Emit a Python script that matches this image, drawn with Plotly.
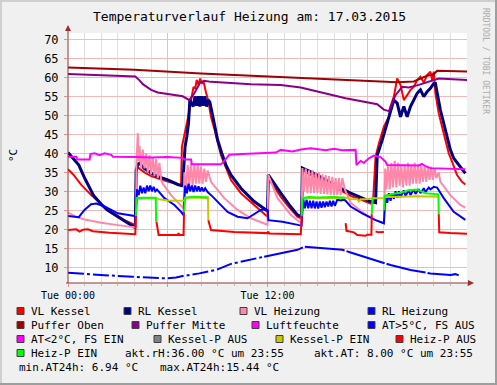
import plotly.graph_objects as go

# ---------------- data (hours of the day, values in °C / %) ----------------
x_tick_vals = [0, 6, 12, 18]
x_tick_text = ["Tue 00:00", "", "Tue 12:00", ""]
y_tick_vals = [10, 15, 20, 25, 30, 35, 40, 45, 50, 55, 60, 65, 70]

vl_kessel = [(0, 35.8), (0.3, 34.5), (0.8, 31.7), (1.4, 29.0), (2.4, 25.1), (3.4, 22.4), (4.05, 21.1),
             (4.1, 35.0), (4.2, 36.3), (4.6, 35.0), (5.0, 34.0), (5.5, 33.2), (6.0, 32.6), (6.5, 32.0),
             (6.8, 31.4), (6.85, 41.7), (7.04, 45.3), (7.23, 49.6), (7.44, 54.9), (7.55, 57.5), (7.65, 57.0),
             (7.74, 59.3), (7.85, 58.0), (7.95, 59.7), (8.05, 58.3), (8.15, 59.0), (8.3, 56.0), (8.43, 54.0),
             (8.6, 49.6), (8.8, 46.5), (9.2, 39.5), (9.5, 36.0), (9.8, 33.0), (10.4, 29.5), (11.2, 26.4),
             (11.8, 24.2), (12.0, 23.3), (12.05, 33.5), (12.4, 31.0), (12.8, 28.5), (13.3, 25.8), (13.8, 23.3),
             (14.05, 22.8), (14.1, 35.6), (14.4, 34.8), (14.8, 33.8), (15.4, 32.5), (16.0, 31.2), (17.0, 28.8),
             (17.6, 27.8), (18.2, 26.8), (18.35, 27.5), (18.5, 39.1), (18.7, 42.6), (19.0, 47.0), (19.3, 49.6),
             (19.4, 52.3), (19.6, 54.9), (19.8, 59.7), (20.0, 58.0), (20.2, 54.0), (20.4, 55.3), (20.6, 56.7),
             (20.8, 57.5), (21.0, 59.3), (21.2, 60.2), (21.4, 58.6), (21.6, 60.6), (21.8, 61.5), (21.9, 59.3),
             (22.0, 61.5), (22.1, 55.8), (22.3, 50.5), (22.5, 47.0), (22.7, 43.5), (22.9, 40.0), (23.1, 37.8),
             (23.4, 34.3), (23.7, 32.5), (23.9, 31.8)]

rl_kessel = [(0, 40.2), (0.3, 38.8), (0.65, 36.9), (1.0, 33.5), (1.55, 28.8), (2.0, 26.6), (2.35, 25.1),
             (3.14, 22.9), (3.94, 20.9), (4.05, 20.4), (4.1, 35.5), (4.2, 37.2), (4.3, 37.4), (4.6, 36.0),
             (5.0, 34.8), (5.34, 34.0), (6.0, 33.0), (6.6, 31.8), (6.9, 31.5), (6.95, 36.0), (7.04, 41.7),
             (7.15, 44.5), (7.25, 48.0), (7.33, 54.0), (7.53, 52.3), (7.64, 55.0), (7.74, 52.5), (7.84, 55.0),
             (7.93, 52.3), (8.03, 55.0), (8.13, 52.5), (8.23, 55.0), (8.33, 52.3), (8.43, 54.0), (8.53, 53.5),
             (8.65, 51.0), (8.8, 47.5), (9.0, 43.5), (9.25, 40.0), (9.5, 36.9), (9.8, 34.3), (10.4, 30.8),
             (11.2, 27.3), (11.9, 25.1), (12.0, 24.8), (12.05, 34.3), (12.4, 32.0), (12.8, 29.5), (13.3, 26.5),
             (13.8, 23.8), (14.05, 23.3), (14.1, 36.1), (14.8, 34.7), (15.4, 33.2), (16.0, 31.7), (17.0, 29.5),
             (18.2, 27.3), (18.5, 27.0), (18.6, 39.5), (18.9, 43.5), (19.2, 47.9), (19.4, 50.5), (19.6, 54.0),
             (19.8, 53.2), (20.0, 49.6), (20.2, 52.3), (20.4, 49.6), (20.6, 52.3), (20.8, 54.0), (21.0, 55.8),
             (21.2, 56.7), (21.4, 54.9), (21.6, 56.2), (21.8, 57.1), (22.0, 58.4), (22.1, 58.4), (22.4, 51.4),
             (22.7, 46.1), (23.0, 40.9), (23.2, 38.7), (23.7, 35.6), (23.9, 34.7)]

vl_heizung = [(0, 24.4), (0.5, 23.3), (1.0, 22.6), (2.0, 21.7), (3.0, 21.1), (4.0, 20.6), (4.08, 20.5),
              (4.12, 38.0), (4.2, 45.3), (4.25, 38.0), (4.3, 42.0), (4.4, 36.0), (4.5, 41.0), (4.6, 36.0),
              (4.7, 40.0), (4.8, 35.0), (4.9, 39.5), (5.0, 34.5), (5.1, 39.0), (5.2, 34.0), (5.3, 38.5),
              (5.4, 33.5), (5.5, 37.5), (5.6, 33.0), (5.7, 32.0), (6.2, 29.0), (6.8, 26.0), (6.95, 25.5),
              (7.0, 35.0), (7.1, 31.0), (7.2, 37.0), (7.3, 31.5), (7.4, 37.4), (7.5, 31.5), (7.6, 37.0),
              (7.7, 32.0), (7.8, 37.0), (7.9, 32.0), (8.0, 36.5), (8.1, 32.0), (8.2, 36.0), (8.3, 32.5),
              (8.4, 35.5), (8.6, 32.5), (9.4, 28.2), (10.2, 25.1), (11.0, 22.9), (11.9, 21.4), (12.0, 21.2),
              (12.05, 34.3), (12.6, 28.2), (13.4, 23.8), (13.9, 22.0), (14.05, 21.8), (14.1, 36.1),
              (14.2, 30.0), (14.3, 36.0), (14.4, 29.5), (14.5, 35.5), (14.6, 29.5), (14.7, 35.5), (14.8, 29.5),
              (14.9, 35.0), (15.0, 29.5), (15.1, 35.0), (15.2, 29.3), (15.3, 34.5), (15.4, 29.3), (15.5, 34.3),
              (15.6, 29.2), (15.7, 34.0), (15.8, 29.0), (15.9, 33.8), (16.0, 29.0), (16.1, 33.5), (16.2, 29.0),
              (16.3, 33.5), (16.4, 29.0), (16.5, 33.5), (16.65, 30.5), (17.0, 27.0), (17.8, 24.2), (18.4, 22.6),
              (18.9, 21.8), (19.0, 21.6), (19.08, 36.0), (19.15, 30.5), (19.25, 37.0), (19.35, 30.5),
              (19.45, 37.5), (19.55, 31.0), (19.65, 38.0), (19.75, 31.0), (19.85, 37.5), (19.95, 31.5),
              (20.05, 37.0), (20.15, 31.0), (20.25, 37.0), (20.35, 31.5), (20.45, 37.5), (20.55, 31.5),
              (20.65, 37.0), (20.75, 32.0), (20.85, 37.5), (20.95, 32.0), (21.05, 37.0), (21.15, 32.0),
              (21.25, 37.0), (21.35, 32.5), (21.45, 36.5), (21.55, 32.5), (21.65, 36.5), (21.75, 33.0),
              (21.85, 36.5), (21.95, 33.0), (22.05, 36.0), (22.15, 33.5), (22.3, 35.0), (22.4, 32.5),
              (23.0, 29.0), (23.6, 26.4), (23.9, 25.7)]

rl_heizung = [(0, 23.5), (0.65, 23.2), (0.99, 25.1), (1.39, 26.6), (1.7, 26.8), (2.2, 26.0), (3.0, 24.2),
              (4.0, 23.5), (4.07, 23.0), (4.1, 27.0), (4.15, 30.5), (4.25, 29.0), (4.35, 31.5), (4.45, 29.5),
              (4.55, 31.0), (4.65, 29.5), (4.75, 31.5), (4.85, 30.0), (4.95, 31.5), (5.05, 30.0), (5.15, 31.2),
              (5.25, 30.0), (5.35, 30.5), (5.8, 28.2), (6.4, 26.4), (6.8, 24.6), (6.95, 23.7), (7.0, 28.0),
              (7.05, 31.5), (7.15, 29.5), (7.25, 32.0), (7.35, 30.0), (7.45, 31.5), (7.55, 29.8), (7.65, 31.5),
              (7.75, 30.0), (7.85, 31.3), (7.95, 30.0), (8.05, 31.0), (8.15, 30.0), (8.25, 30.8), (8.4, 29.8),
              (8.7, 28.6), (9.6, 24.6), (10.2, 23.3), (10.8, 22.9), (11.2, 23.9), (11.6, 25.1), (11.9, 25.3),
              (12.02, 25.0), (12.05, 22.4), (12.9, 22.0), (13.9, 21.1), (14.05, 21.0), (14.1, 25.0),
              (14.15, 28.0), (14.25, 25.5), (14.35, 27.8), (14.45, 25.5), (14.55, 27.5), (14.65, 25.5),
              (14.75, 27.5), (14.85, 25.5), (14.95, 27.3), (15.05, 25.5), (15.15, 27.3), (15.25, 25.7),
              (15.35, 27.3), (15.45, 25.8), (15.55, 27.3), (15.65, 26.0), (15.75, 27.5), (15.85, 26.0),
              (15.95, 27.5), (16.05, 26.2), (16.2, 27.8), (16.4, 27.6), (16.6, 27.8), (16.7, 27.5),
              (17.0, 26.0), (17.7, 24.2), (18.5, 22.4), (19.0, 21.6), (19.05, 26.0), (19.1, 29.0), (19.2, 27.0),
              (19.3, 29.5), (19.4, 27.5), (19.5, 29.5), (19.6, 28.0), (19.7, 30.0), (19.8, 28.3), (19.9, 30.0),
              (20.0, 28.5), (20.2, 30.2), (20.3, 28.8), (20.5, 30.3), (20.6, 29.0), (20.8, 30.5), (20.9, 29.3),
              (21.1, 30.6), (21.2, 29.5), (21.4, 30.8), (21.5, 29.8), (21.7, 31.0), (21.8, 30.5), (22.0, 31.2),
              (22.2, 31.0), (22.4, 29.5), (22.6, 28.2), (23.2, 24.6), (23.7, 23.0), (23.9, 22.5)]

puffer_oben = [(0, 62.6), (4, 62.0), (8, 61.0), (12, 60.2), (16, 59.4), (19, 58.85), (19.8, 58.7),
               (20.8, 58.9), (21.2, 59.6), (21.6, 60.4), (22.0, 60.8), (22.2, 61.7), (24, 61.5)]

puffer_mitte = [(0, 60.9), (2, 60.6), (4.05, 60.2), (4.3, 59.2), (4.5, 58.2), (5.0, 56.7), (5.4, 56.0),
                (6.9, 55.0), (7.3, 54.0), (7.6, 55.8), (7.95, 58.6), (8.2, 59.1), (8.6, 58.8), (11, 58.2),
                (12.8, 58.0), (14, 57.3), (15, 56.3), (16.7, 54.5), (18.6, 52.9), (19.0, 51.5), (19.3, 51.1),
                (19.7, 55.3), (20.1, 57.5), (20.5, 57.3), (21.1, 58.0), (22.0, 59.3), (22.3, 59.7), (24, 59.3)]

luftfeuchte = [(0, 39.1), (0.5, 39.1), (0.55, 38.4), (1.3, 38.4), (1.35, 39.8), (1.6, 40.0), (1.9, 39.5),
               (2.2, 40.0), (2.6, 39.6), (2.7, 39.1), (4.1, 39.0), (5.0, 38.9), (6.0, 39.0), (6.9, 38.8),
               (7.0, 38.4), (7.4, 38.4), (7.45, 37.1), (9.2, 37.1), (9.4, 38.0), (9.7, 39.6), (10.5, 39.8),
               (11.5, 40.0), (12.5, 40.2), (12.8, 40.9), (13.5, 40.5), (14.0, 41.0), (14.6, 41.3), (15.5, 40.8),
               (16.0, 41.2), (16.5, 40.8), (17.3, 40.9), (17.35, 36.9), (17.6, 38.0), (17.8, 37.5),
               (18.1, 38.7), (18.4, 39.4), (18.8, 39.0), (19.1, 37.8), (19.2, 36.9), (21.1, 36.8),
               (21.3, 37.2), (21.5, 36.6), (21.8, 36.1), (23.9, 35.8)]

# outside temperature: night/morning part (logged with gaps) and afternoon part
aussentemp_frueh = [(0, 8.6), (0.6, 8.4), (1.95, 8.0), (3.9, 7.5), (5.0, 7.3), (5.9, 7.1), (6.5, 7.3),
                    (6.9, 7.7), (7.9, 8.4), (8.9, 9.3), (9.8, 10.9), (10.8, 11.9), (11.8, 12.8)]
aussentemp_spaet = [(11.8, 12.8), (12.8, 13.7), (13.8, 14.6), (14.2, 15.4), (14.9, 15.1), (15.8, 14.8),
                    (16.5, 14.6), (17.0, 13.9), (17.5, 13.2), (18.2, 12.1), (19.4, 10.6), (20.6, 9.3),
                    (21.8, 8.4), (23.0, 8.0), (23.3, 8.2), (23.5, 7.9)]

kessel_p_ein = [(4.1, 28.2), (5.3, 28.2), (5.5, 27.9), (6.0, 27.6), (6.5, 27.5), (7.0, 27.6), (7.05, 28.3),
                (8.42, 28.4), (8.44, 22.4), None,
                (14.1, 28.2), (16.7, 28.3), (17.0, 28.0), (17.4, 27.9), (17.5, 27.3), (17.6, 27.9),
                (18.0, 27.9), (18.3, 28.2), (19.0, 28.2), (19.1, 28.5), (20.0, 28.6), (21.0, 28.7), (22.28, 28.6)]

heiz_p_aus = [(0, 19.8), (0.5, 20.0), (0.7, 19.4), (0.9, 19.9), (1.2, 20.0), (1.5, 19.5), (2.5, 19.1),
              (4.05, 18.7), (4.08, 23.5), None,
              (5.32, 22.0), (5.45, 18.5), (6.6, 18.5), (6.65, 19.0), (6.7, 18.5), (6.95, 18.5), (6.98, 24.5), None,
              (8.44, 22.4), (8.6, 19.8), (10.0, 19.3), (12.0, 19.0), (12.05, 19.4), (12.1, 18.9), (14.0, 18.7),
              (14.06, 23.5), None,
              (16.7, 21.6), (16.75, 19.6), (17.2, 19.2), (17.4, 18.5), (17.9, 18.3), (18.0, 18.6), (18.25, 18.6),
              (18.27, 24.0), None,
              (18.5, 19.4), (18.7, 19.2), (19.0, 19.3), None,
              (22.3, 24.0), (22.33, 19.2), (23.0, 19.0), (24.0, 18.8)]

heiz_p_ein = [(4.08, 23.5), (4.12, 28.2), (4.5, 28.3), (5.0, 28.3), (5.28, 28.3), (5.3, 22.0), None,
              (6.98, 24.5), (7.05, 28.3), (7.5, 28.6), (8.0, 28.5), (8.4, 28.4), None,
              (14.06, 23.5), (14.1, 28.2), (14.5, 28.5), (15.0, 28.4), (16.0, 28.5), (16.65, 28.3), None,
              (18.27, 24.0), (18.32, 28.2), None,
              (19.02, 25.0), (19.05, 28.8), (19.5, 29.3), (20.0, 29.6), (20.5, 30.3), (21.0, 30.5),
              (21.5, 29.5), (22.0, 29.3), (22.28, 29.2), (22.3, 24.0)]

legend_rows = [
    [("VL Kessel", "#FF0000", 17), ("RL Kessel", "#000080", 124), ("VL Heizung", "#FF88AA", 240),
     ("RL Heizung", "#0000FF", 368)],
    [("Puffer Oben", "#A00000", 17), ("Puffer Mitte", "#880088", 132), ("Luftfeuchte", "#FF00FF", 252),
     ("AT>5°C, FS AUS", "#0000FF", 368)],
    [("AT<2°C, FS EIN", "#FF00FF", 17), ("Kessel-P AUS", "#808080", 154), ("Kessel-P EIN", "#C8C800", 276),
     ("Heiz-P AUS", "#FF0000", 396)],
    [("Heiz-P EIN", "#00FF00", 17)],
]
info_texts = [("akt.rH:36.00 °C um 23:55", 123, 353), ("akt.AT: 8.00 °C um 23:55", 312, 353),
              ("min.AT24h: 6.94 °C", 17, 367), ("max.AT24h:15.44 °C", 158, 367)]
title_text = "Temperaturverlauf Heizung am: 17.03.2015"

# ---------------- geometry helpers ----------------
W, H = 497, 385
PL, PR, PT, PB = 68, 467, 33, 283
FONT = "DejaVu Sans Mono"


def px(x):
    return (x - PL) / (PR - PL)


def py(y):
    return (PB - y) / (PB - PT)


def split(pairs):
    xs, ys = [], []
    for p in pairs:
        if p is None:
            xs.append(None)
            ys.append(None)
        else:
            xs.append(p[0])
            ys.append(p[1])
    return xs, ys


fig = go.Figure()


def add_line(pairs, color, width=2, dash=None):
    xs, ys = split(pairs)
    fig.add_trace(go.Scatter(x=xs, y=ys, mode="lines", connectgaps=False,
                             line=dict(color=color, width=width, dash=dash),
                             hoverinfo="skip", showlegend=False))


add_line(vl_kessel, "#FF0000", 2)
add_line(rl_kessel, "#000080", 3)
add_line(vl_heizung, "#FF88AA", 2)
add_line(rl_heizung, "#0000FF", 2)
add_line(puffer_oben, "#A00000", 2)
add_line(puffer_mitte, "#880088", 2)
add_line(luftfeuchte, "#FF00FF", 2)
add_line(aussentemp_frueh, "#0000FF", 2, dash="16px,3px,3px,3px")
add_line(aussentemp_spaet, "#0000FF", 2, dash="40px,2px")
add_line(kessel_p_ein, "#C8C800", 2)
add_line(heiz_p_aus, "#FF0000", 2)
add_line(heiz_p_ein, "#00FF00", 2)

MGRID = "#F4BABA"
fig.update_layout(
    width=W, height=H,
    margin=dict(l=PL, r=W - PR, t=PT, b=H - PB, pad=0),
    paper_bgcolor="#F0F0F0", plot_bgcolor="#FFFFFF",
    showlegend=False,
    font=dict(family=FONT, color="#000000"),
    xaxis=dict(range=[0, 24], tickmode="array", tickvals=x_tick_vals, ticktext=x_tick_text,
               showgrid=True, gridcolor=MGRID, gridwidth=1, zeroline=False, showline=False,
               ticks="outside", ticklen=3, tickcolor="#E09090", tickfont=dict(size=10, family=FONT),
               minor=dict(dtick=1, tick0=0, showgrid=True, gridcolor="#E0E0E0", ticks="outside",
                          ticklen=2, tickcolor="#BBBBBB")),
    yaxis=dict(range=[5.87, 71.66], tickmode="array", tickvals=y_tick_vals,
               ticktext=[str(v) for v in y_tick_vals],
               showgrid=True, gridcolor=MGRID, gridwidth=1, zeroline=False, showline=False,
               ticks="outside", ticklen=3, tickcolor="#E09090", ticklabelstandoff=3,
               tickfont=dict(size=12, family=FONT)),
)

shapes = []
AX = "#9A3030"
# axes with arrows
shapes.append(dict(type="line", xref="paper", yref="paper", x0=px(68), x1=px(68), y0=py(283), y1=py(28),
                   line=dict(color=AX, width=1), layer="above"))
shapes.append(dict(type="line", xref="paper", yref="paper", x0=px(66), x1=px(470), y0=py(283), y1=py(283),
                   line=dict(color=AX, width=1), layer="above"))
shapes.append(dict(type="path", xref="paper", yref="paper",
                   path=f"M {px(65)} {py(31)} L {px(71)} {py(31)} L {px(68)} {py(25)} Z",
                   fillcolor="#A52A2A", line=dict(width=0), layer="above"))
shapes.append(dict(type="path", xref="paper", yref="paper",
                   path=f"M {px(468)} {py(280)} L {px(468)} {py(286)} L {px(474)} {py(283)} Z",
                   fillcolor="#A52A2A", line=dict(width=0), layer="above"))
# 3D frame
shapes.append(dict(type="rect", xref="paper", yref="paper", x0=px(0), x1=px(W), y0=py(2), y1=py(0),
                   fillcolor="#CFCFCF", line=dict(width=0), layer="below"))
shapes.append(dict(type="rect", xref="paper", yref="paper", x0=px(0), x1=px(2), y0=py(H), y1=py(0),
                   fillcolor="#CFCFCF", line=dict(width=0), layer="below"))
shapes.append(dict(type="rect", xref="paper", yref="paper", x0=px(0), x1=px(W), y0=py(H), y1=py(H - 2),
                   fillcolor="#9E9E9E", line=dict(width=0), layer="below"))
shapes.append(dict(type="rect", xref="paper", yref="paper", x0=px(W - 2), x1=px(W), y0=py(H), y1=py(0),
                   fillcolor="#9E9E9E", line=dict(width=0), layer="below"))

annotations = []
row_y = [311, 325, 339, 353]
for r, row in enumerate(legend_rows):
    yc = row_y[r]
    for label, color, bx in row:
        shapes.append(dict(type="rect", xref="paper", yref="paper", x0=px(bx), x1=px(bx + 7),
                           y0=py(yc + 3.5), y1=py(yc - 3.5), fillcolor=color,
                           line=dict(color="#404040", width=1)))
        annotations.append(dict(text=label, x=px(bx + 12), y=py(yc), xref="paper", yref="paper",
                                xanchor="left", yanchor="middle", showarrow=False,
                                font=dict(family=FONT, size=11, color="#000000")))
for txt, tx, ty in info_texts:
    annotations.append(dict(text=txt, x=px(tx), y=py(ty), xref="paper", yref="paper",
                            xanchor="left", yanchor="middle", showarrow=False,
                            font=dict(family=FONT, size=11, color="#000000")))

annotations.append(dict(text=title_text, x=px(249), y=py(17), xref="paper", yref="paper",
                        xanchor="center", yanchor="middle", showarrow=False,
                        font=dict(family=FONT, size=13, color="#000000")))
annotations.append(dict(text="°C", x=px(13), y=py(156), xref="paper", yref="paper", textangle=-90,
                        xanchor="center", yanchor="middle", showarrow=False,
                        font=dict(family=FONT, size=11, color="#000000")))
annotations.append(dict(text="RRDTOOL / TOBI OETIKER", x=px(486), y=py(61), xref="paper", yref="paper",
                        textangle=90, xanchor="center", yanchor="middle", showarrow=False,
                        font=dict(family=FONT, size=8, color="#AAAAAA")))

fig.update_layout(shapes=shapes, annotations=annotations)
fig.write_html("out.html", config={"displayModeBar": False, "staticPlot": True},
               post_script="document.body.style.margin='0px';document.body.style.overflow='hidden';")
